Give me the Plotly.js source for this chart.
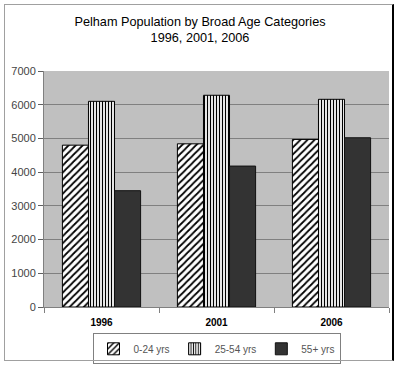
<!DOCTYPE html>
<html>
<head>
<meta charset="utf-8">
<script src="https://cdn.plot.ly/plotly-3.0.1.min.js"></script>
<style>
html,body{margin:0;padding:0;background:#fff;}
#wrap{position:relative;width:400px;height:366px;}
#chart{width:400px;height:366px;}
#frame{position:absolute;left:4px;top:4px;width:390px;height:357px;border-left:1px solid #a0a0a0;border-top:1px solid #a0a0a0;border-bottom:1px solid #a0a0a0;border-right:2px solid #000;pointer-events:none;box-sizing:border-box;}
</style>
</head>
<body>
<div id="wrap"><div id="chart"></div><div id="frame"></div></div>
<script>
var categories = ["1996", "2001", "2006"];
var seriesNames = ["0-24 yrs", "25-54 yrs", "55+ yrs"];
var age0to24 = [4800, 4840, 4970];
var age25to54 = [6100, 6280, 6160];
var age55plus = [3450, 4180, 5020];

var font = "Liberation Sans, Arial, sans-serif";
var traces = [
  {type:"bar", name:seriesNames[0], x:categories, y:age0to24,
   marker:{color:"#ffffff", line:{color:"#000", width:1},
     pattern:{shape:"/", fgcolor:"#000", bgcolor:"#fff", size:5, solidity:0.35}}},
  {type:"bar", name:seriesNames[1], x:categories, y:age25to54,
   marker:{color:"#ffffff", line:{color:"#000", width:1},
     pattern:{shape:"|", fgcolor:"#000", bgcolor:"#fff", size:3, solidity:0.4}}},
  {type:"bar", name:seriesNames[2], x:categories, y:age55plus,
   marker:{color:"#333333", line:{color:"#111", width:1}}}
];
var layout = {
  width:400, height:366,
  margin:{l:44, r:11, t:71, b:59},
  paper_bgcolor:"#ffffff", plot_bgcolor:"#c0c0c0",
  title:{text:"Pelham Population by Broad Age Categories<br>1996, 2001, 2006",
    font:{family:font, size:12.7, color:"#000"}, x:0.5, xanchor:"center", y:0.93, yanchor:"top"},
  barmode:"group", bargap:0.32, bargroupgap:0,
  showlegend:true,
  legend:{orientation:"h", x:0.5, xanchor:"center", xref:"paper", y:0.047, yref:"container", yanchor:"middle",
    bordercolor:"#808080", borderwidth:1, bgcolor:"#fff",
    font:{family:font, size:10, color:"#555"}, itemwidth:30, traceorder:"normal"},
  xaxis:{type:"category", showgrid:false, ticks:"outside", tickson:"boundaries", ticklen:5,
    tickcolor:"#808080", showline:true, linecolor:"#808080", linewidth:1, ticklabelstandoff:6,
    tickfont:{family:font, size:10, color:"#000", weight:"bold"}, mirror:false, automargin:false},
  yaxis:{range:[0,7000], dtick:1000, showgrid:true, gridcolor:"#808080", gridwidth:1,
    ticks:"outside", ticklen:5, tickcolor:"#606060", showline:true, linecolor:"#808080",
    tickfont:{family:font, size:11, color:"#444"}, zeroline:false, automargin:false}
};
Plotly.newPlot("chart", traces, layout, {displayModeBar:false, staticPlot:true});
</script>
</body>
</html>
